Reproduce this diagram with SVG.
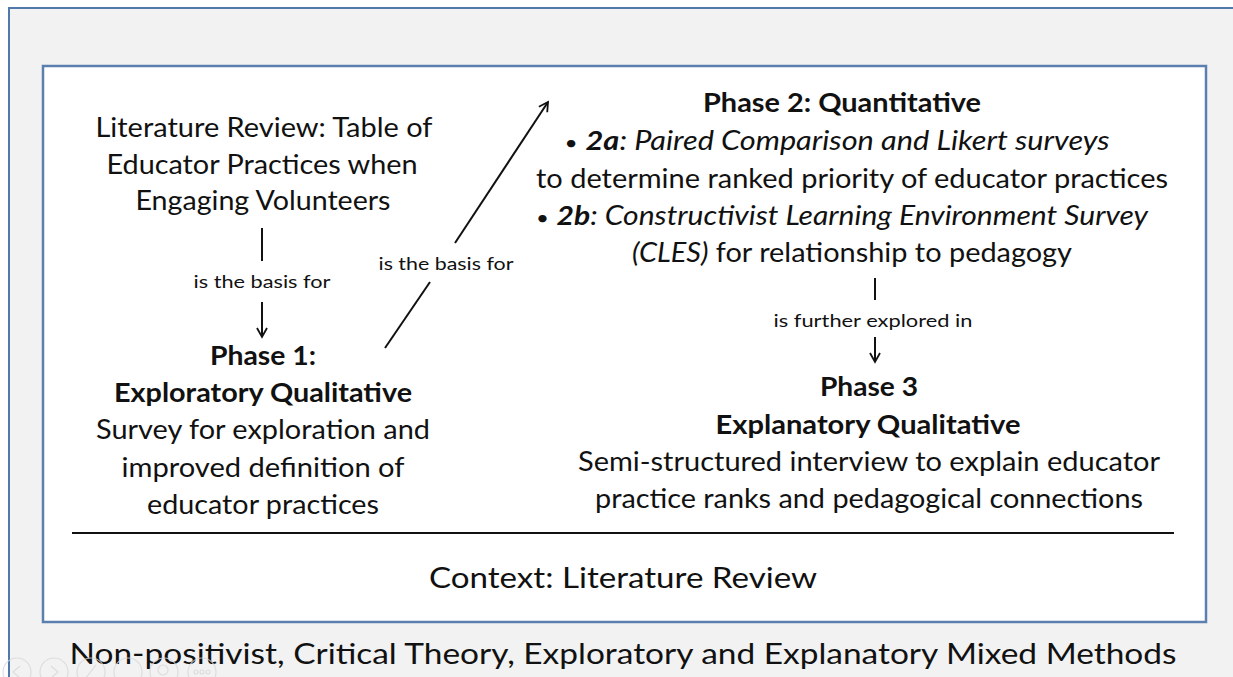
<svg xmlns="http://www.w3.org/2000/svg" width="1233" height="677" viewBox="0 0 1233 677">
  <defs>
    <style>
      .t { font-family: Lato, "Open Sans", "Liberation Sans", sans-serif; fill: #111; text-anchor: middle; }
      .big { font-size: 27px; }
      .lbl { font-size: 18px; }
      .b { font-weight: bold; }
      .i { font-style: italic; }
      .dot { font-size: 20px; }
      .ln { stroke: #111; stroke-width: 2; fill: none; }
      .ctl { fill: none; stroke: #d9d9d9; stroke-width: 1.2; }
    </style>
    <marker id="open" viewBox="0 0 12 12" refX="10" refY="6" markerWidth="12" markerHeight="12" markerUnits="userSpaceOnUse" orient="auto">
      <path d="M1,1 L10,6 L1,11" fill="none" stroke="#111" stroke-width="1.8"/>
    </marker>
  </defs>

  <!-- slide background and frames -->
  <rect x="0" y="0" width="1233" height="677" fill="#ffffff"/>
  <rect x="9" y="8" width="1240" height="700" fill="#f2f2f2" stroke="#4f78ab" stroke-width="2"/>
  <rect x="43" y="66" width="1163" height="556" fill="#ffffff" stroke="#5b7fae" stroke-width="2.5"/>

  <!-- connectors -->
  <g id="connectors">
    <line class="ln" x1="262" y1="228" x2="262" y2="261"/>
    <line class="ln" x1="262" y1="302" x2="262" y2="337" marker-end="url(#open)"/>
    <line class="ln" x1="385" y1="348" x2="430" y2="282"/>
    <line class="ln" x1="455" y1="243" x2="548" y2="102" marker-end="url(#open)"/>
    <line class="ln" x1="875" y1="278" x2="875" y2="300"/>
    <line class="ln" x1="875" y1="337" x2="875" y2="362" marker-end="url(#open)"/>
    <text class="t lbl" x="262" y="288" textLength="137" lengthAdjust="spacingAndGlyphs">is the basis for</text>
    <text class="t lbl" x="446" y="270" textLength="135" lengthAdjust="spacingAndGlyphs">is the basis for</text>
    <text class="t lbl" x="873" y="327" textLength="199" lengthAdjust="spacingAndGlyphs">is further explored in</text>
  </g>

  <!-- literature review node -->
  <g id="literature">
    <text class="t big" x="264" y="137" textLength="337" lengthAdjust="spacingAndGlyphs">Literature Review: Table of</text>
    <text class="t big" x="262" y="174" textLength="311" lengthAdjust="spacingAndGlyphs">Educator Practices when</text>
    <text class="t big" x="263" y="210" textLength="255" lengthAdjust="spacingAndGlyphs">Engaging Volunteers</text>
  </g>

  <!-- phase 1 node -->
  <g id="phase1">
    <text class="t big b" x="263" y="365" textLength="106" lengthAdjust="spacingAndGlyphs">Phase 1:</text>
    <text class="t big b" x="263" y="402" textLength="298" lengthAdjust="spacingAndGlyphs">Exploratory Qualitative</text>
    <text class="t big" x="263" y="439" textLength="334" lengthAdjust="spacingAndGlyphs">Survey for exploration and</text>
    <text class="t big" x="263" y="477" textLength="283" lengthAdjust="spacingAndGlyphs">improved definition of</text>
    <text class="t big" x="263" y="514" textLength="232" lengthAdjust="spacingAndGlyphs">educator practices</text>
  </g>

  <!-- phase 2 node -->
  <g id="phase2">
    <text class="t big b" x="842" y="112" textLength="278" lengthAdjust="spacingAndGlyphs">Phase 2: Quantitative</text>
    <text class="t big" x="837" y="150" textLength="545" lengthAdjust="spacingAndGlyphs"><tspan class="dot">•</tspan> <tspan class="b i">2a</tspan><tspan class="i">: Paired Comparison and Likert surveys</tspan></text>
    <text class="t big" x="852" y="188" textLength="632" lengthAdjust="spacingAndGlyphs">to determine ranked priority of educator practices</text>
    <text class="t big" x="842" y="225" textLength="612" lengthAdjust="spacingAndGlyphs"><tspan class="dot">•</tspan> <tspan class="b i">2b</tspan><tspan class="i">: Constructivist Learning Environment Survey</tspan></text>
    <text class="t big" x="852" y="262" textLength="440" lengthAdjust="spacingAndGlyphs"><tspan class="i">(CLES)</tspan> for relationship to pedagogy</text>
  </g>

  <!-- phase 3 node -->
  <g id="phase3">
    <text class="t big b" x="869" y="396" textLength="98" lengthAdjust="spacingAndGlyphs">Phase 3</text>
    <text class="t big b" x="868" y="434" textLength="305" lengthAdjust="spacingAndGlyphs">Explanatory Qualitative</text>
    <text class="t big" x="869" y="471" textLength="582" lengthAdjust="spacingAndGlyphs">Semi-structured interview to explain educator</text>
    <text class="t big" x="869" y="508" textLength="548" lengthAdjust="spacingAndGlyphs">practice ranks and pedagogical connections</text>
  </g>

  <!-- context band -->
  <g id="context">
    <line class="ln" x1="72" y1="533" x2="1174" y2="533"/>
    <text class="t" x="623" y="588" font-size="28" textLength="388" lengthAdjust="spacingAndGlyphs">Context: Literature Review</text>
  </g>

  <!-- paradigm caption -->
  <g id="paradigm">
    <text class="t" x="623" y="664" font-size="29" textLength="1107" lengthAdjust="spacingAndGlyphs">Non-positivist, Critical Theory, Exploratory and Explanatory Mixed Methods</text>
  </g>

  <!-- faint slideshow controls -->
  <g id="controls" opacity="0.8">
    <circle class="ctl" cx="17" cy="672" r="14"/>
    <circle class="ctl" cx="54" cy="672" r="14"/>
    <circle class="ctl" cx="91" cy="672" r="14"/>
    <circle class="ctl" cx="128" cy="672" r="14"/>
    <circle class="ctl" cx="164" cy="672" r="14"/>
    <circle class="ctl" cx="202" cy="672" r="14"/>
    <path class="ctl" d="M20,666 L13,672 L20,678"/>
    <path class="ctl" d="M51,666 L58,672 L51,678"/>
    <path class="ctl" d="M85,679 L96,665"/>
    <circle class="ctl" cx="163" cy="670" r="5"/>
    <circle class="ctl" cx="196" cy="672" r="2"/>
    <circle class="ctl" cx="202" cy="672" r="2"/>
    <circle class="ctl" cx="208" cy="672" r="2"/>
  </g>
</svg>
